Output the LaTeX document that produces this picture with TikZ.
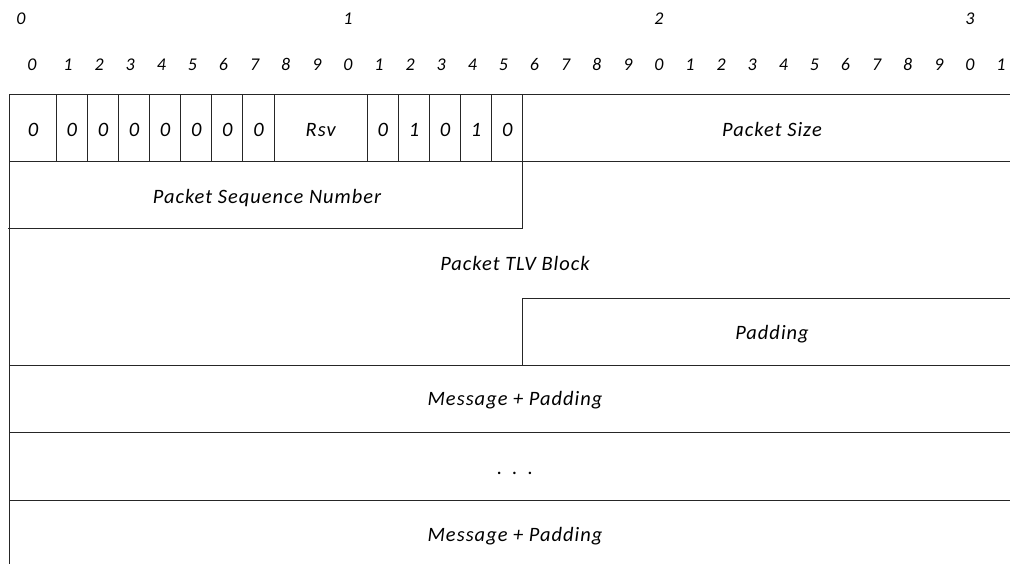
\documentclass[tikz,border=0pt]{standalone}
\usepackage{fontspec}
\setmainfont{Carlito}
\newfontfamily\spaced{Carlito}[LetterSpace=5]
\begin{document}
\begin{tikzpicture}[x=1bp,y=-1bp,
  rule/.style={line width=1bp, draw=black!85, line cap=rect},
  lbl/.style={font=\spaced\fontsize{20.5}{24}\selectfont\itshape, inner sep=0pt, anchor=base},
  ruler/.style={font=\fontsize{18}{22}\selectfont\itshape, inner sep=0pt, anchor=base},
]
\useasboundingbox (0,0) rectangle (1010,564);

% bit ruler: tens and units
\node[ruler] (ten0) at (21,25)  {0};
\node[ruler] (ten1) at (348,25) {1};
\node[ruler] (ten2) at (659,25) {2};
\node[ruler] (ten3) at (970,25) {3};
\foreach \i in {0,...,31} {
  \pgfmathsetmacro\bx{\i==0 ? 32 : 36.9+31.1*\i}
  \pgfmathtruncatemacro\d{mod(\i,10)}
  \node[ruler] (bit\i) at (\bx,71) {\d};
}

% outer frame: top line and left edge
\draw[rule] (1010,95) -- (9.5,95) -- (9.5,564);
\draw[rule] (9.5,162) -- (1010,162);

% flag cell dividers in the first word
\foreach \k in {0,...,7,10,11,12,13,14,15} {
  \draw[rule] ({56.3+31.1*\k},95) -- ({56.3+31.1*\k},162);
}

% first word: flag bits, reserved field, packet size
\node[lbl] (f0) at (33,136.5) {0};
\foreach \k in {1,...,7} {
  \node[lbl] (f\k) at ({56.3+31.1*(\k-0.5)},136.5) {0};
}
\node[lbl] (rsv) at (320.65,136.5) {Rsv};
\foreach \k/\v in {1/0,2/1,3/0,4/1,5/0} {
  \node[lbl] (g\k) at ({367.3+31.1*(\k-0.5)},136.5) {\v};
}
\node[lbl] (psize) at (772,136.5) {Packet Size};

% packet sequence number box
\draw[rule] (522.8,162) -- (522.8,229) -- (8,229);
\node[lbl] (pseq) at (267,204) {Packet Sequence Number};

% TLV block and its padding
\node[lbl] (tlv) at (515,271) {Packet TLV Block};
\draw[rule] (1010,298) -- (522.8,298) -- (522.8,365);
\node[lbl] (pad) at (772,339) {Padding};
\draw[rule] (9.5,365) -- (1010,365);

% messages
\node[lbl] (msg1) at (515,405.5) {Message + Padding};
\draw[rule] (9.5,432) -- (1010,432);
\node[lbl] (dots) at (515,474) {.\kern0.5em.\kern0.5em.};
\draw[rule] (9.5,500) -- (1010,500);
\node[lbl] (msg2) at (515,541.5) {Message + Padding};
\end{tikzpicture}
\end{document}
